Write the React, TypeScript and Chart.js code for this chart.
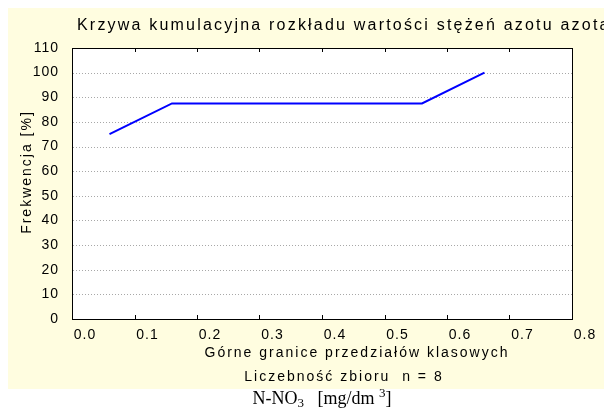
import React, { useEffect, useRef } from "react";
import { Chart, registerables } from "chart.js";

Chart.register(...registerables);

// ---- data ----
const xValues = [0.06, 0.16, 0.56, 0.66];
const yValues = [75, 87.5, 87.5, 100];
const xTickValues = [0, 0.1, 0.2, 0.3, 0.4, 0.5, 0.6, 0.7, 0.8];
const yTickValues = [0, 10, 20, 30, 40, 50, 60, 70, 80, 90, 100, 110];
const chartTitle = "Krzywa kumulacyjna rozkładu wartości stężeń azotu azotanowego";
const yTitle = "Frekwencja [%]";
const xTitle1 = "Górne granice przedziałów klasowych";
const xTitle2 = "Liczebność zbioru  n = 8";

const FONT = "'Liberation Sans', Arial, Helvetica, sans-serif";
const BG = "#FFFDE0";

const decorPlugin = {
  id: "decor",
  beforeDraw(chart: any) {
    const ctx = chart.ctx as CanvasRenderingContext2D;
    const { left, top, right, bottom } = chart.chartArea;
    ctx.save();
    ctx.fillStyle = BG;
    ctx.fillRect(0, 0, chart.width, chart.height);
    ctx.fillStyle = "#FFFFFF";
    ctx.fillRect(left, top, right - left, bottom - top);
    ctx.restore();
    (ctx as any).letterSpacing = "1px";
  },
  beforeDatasetsDraw(chart: any) {
    const ctx = chart.ctx as CanvasRenderingContext2D;
    const { left, right } = chart.chartArea;
    const ys = chart.scales.y;
    ctx.save();
    ctx.strokeStyle = "#a8a8a8";
    ctx.lineWidth = 1;
    ctx.setLineDash([1, 2]);
    yTickValues.slice(1, -1).forEach((v) => {
      const y = Math.round(ys.getPixelForValue(v)) + 0.5;
      ctx.beginPath();
      ctx.moveTo(left + 1, y);
      ctx.lineTo(right, y);
      ctx.stroke();
    });
    ctx.restore();
  },
  afterDatasetsDraw(chart: any) {
    const ctx = chart.ctx as CanvasRenderingContext2D;
    const { left, top, right, bottom } = chart.chartArea;
    const xs = chart.scales.x;
    ctx.save();
    ctx.strokeStyle = "#000";
    ctx.lineWidth = 1;
    ctx.setLineDash([]);
    ctx.strokeRect(Math.round(left) + 0.5, Math.round(top) + 0.5, Math.round(right - left), Math.round(bottom - top));
    xTickValues.slice(1, -1).forEach((v) => {
      const x = Math.round(xs.getPixelForValue(v)) + 0.5;
      ctx.beginPath();
      ctx.moveTo(x, bottom);
      ctx.lineTo(x, bottom - 4);
      ctx.moveTo(x, top);
      ctx.lineTo(x, top + 4);
      ctx.stroke();
    });
    ctx.restore();
  },
  afterDraw(chart: any) {
    const ctx = chart.ctx as CanvasRenderingContext2D;
    ctx.save();
    (ctx as any).letterSpacing = "2.2px";
    ctx.fillStyle = "#000";
    ctx.textBaseline = "alphabetic";
    ctx.font = `16px ${FONT}`;
    ctx.textAlign = "left";
    ctx.fillText(chartTitle, 69, 22);
    (ctx as any).letterSpacing = "2px";
    ctx.font = `14px ${FONT}`;
    ctx.textAlign = "center";
    ctx.fillText(xTitle1, 349, 349);
    ctx.fillText(xTitle2, 336, 373);
    ctx.translate(23, 164);
    ctx.rotate(-Math.PI / 2);
    ctx.fillText(yTitle, 0, 0);
    ctx.restore();
  },
};

export default function App() {
  const canvasRef = useRef<HTMLCanvasElement | null>(null);

  useEffect(() => {
    if (!canvasRef.current) return;
    const chart = new Chart(canvasRef.current, {
      type: "line",
      data: {
        datasets: [
          {
            data: xValues.map((x, i) => ({ x, y: yValues[i] })),
            borderColor: "#0000FF",
            borderWidth: 2,
            pointRadius: 0,
            fill: false,
            tension: 0,
          },
        ],
      },
      options: {
        animation: false,
        responsive: false,
        devicePixelRatio: 1,
        layout: { padding: { left: 0, top: 40, right: 32, bottom: 0 } },
        plugins: {
          legend: { display: false },
          title: { display: false },
          tooltip: { enabled: false },
        },
        scales: {
          x: {
            type: "linear",
            min: 0,
            max: 0.8,
            afterBuildTicks: (s: any) => {
              s.ticks = xTickValues.map((v) => ({ value: v }));
            },
            afterFit: (s: any) => {
              s.height = 70;
            },
            ticks: {
              callback: (v: any) => Number(v).toFixed(1),
              font: { family: FONT, size: 14 },
              color: "#000",
              padding: 0,
              labelOffset: 13,
              maxRotation: 0,
              autoSkip: false,
            },
            grid: { display: false },
            border: { display: false },
          },
          y: {
            type: "linear",
            min: 0,
            max: 110,
            afterBuildTicks: (s: any) => {
              s.ticks = yTickValues.map((v) => ({ value: v }));
            },
            afterFit: (s: any) => {
              s.width = 64;
            },
            ticks: {
              font: { family: FONT, size: 14 },
              color: "#000",
              padding: 5,
              autoSkip: false,
            },
            grid: { display: false },
            border: { display: false },
          },
        },
      },
      plugins: [decorPlugin],
    } as any);
    return () => chart.destroy();
  }, []);

  return (
    <div
      style={{
        position: "fixed",
        left: 0,
        top: 0,
        width: 604,
        height: 412,
        background: "#FFFFFF",
        overflow: "hidden",
      }}
    >
      <div style={{ position: "absolute", left: 8, top: 8, width: 596, height: 381, background: BG }}>
        <canvas ref={canvasRef} width={596} height={381} style={{ display: "block", width: 596, height: 381 }} />
      </div>
      <div
        style={{
          position: "absolute",
          left: 170,
          top: 388,
          width: 304,
          textAlign: "center",
          fontFamily: "'Liberation Serif', 'Times New Roman', serif",
          fontSize: 18,
          lineHeight: "20px",
          whiteSpace: "pre",
          color: "#000",
        }}
      >
        N-NO<span style={{ fontSize: 13, verticalAlign: "-3px", lineHeight: 0 }}>3</span>
        {"   [mg/dm "}
        <span style={{ fontSize: 13, verticalAlign: "7px", lineHeight: 0 }}>3</span>]
      </div>
    </div>
  );
}
